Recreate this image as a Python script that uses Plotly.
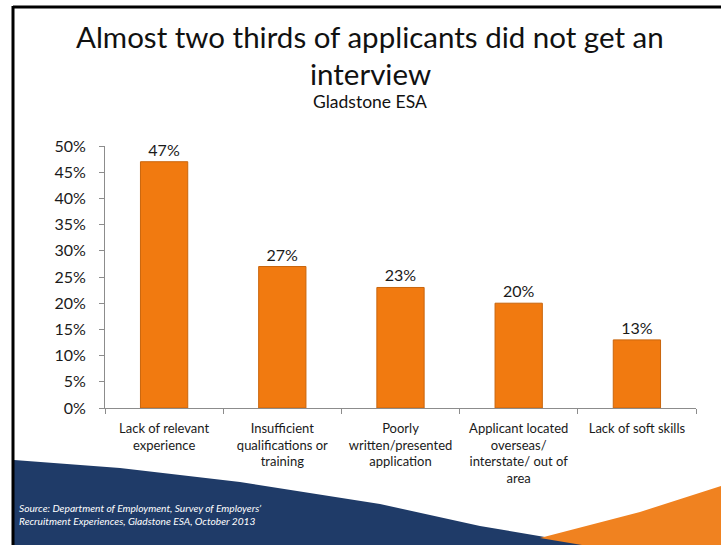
import plotly.graph_objects as go

# Reasons applicants were not offered an interview (share of applicants)
categories = [
    "Lack of relevant<br>experience",
    "Insufficient<br>qualifications or<br>training",
    "Poorly<br>written/presented<br>application",
    "Applicant located<br>overseas/<br>interstate/ out of<br>area",
    "Lack of soft skills",
]
shares = [0.47, 0.27, 0.23, 0.20, 0.13]

y_tick_values = [0, 0.05, 0.10, 0.15, 0.20, 0.25, 0.30, 0.35, 0.40, 0.45, 0.50]

W, H = 721, 545
L, R, T, B = 105, 25, 146, 137
FONT = "Lato, 'Open Sans', sans-serif"


def px(x):
    return (x - L) / (W - L - R)


def py(y):
    return (H - B - y) / (H - T - B)


def path(points):
    return "M " + " L ".join(f"{px(x):.4f},{py(y):.4f}" for x, y in points) + " Z"


fig = go.Figure(
    go.Bar(
        x=categories,
        y=shares,
        width=0.4,
        marker=dict(color="#F17A10", line=dict(color="#C9650C", width=1)),
        texttemplate="%{y:.0%}",
        textposition="outside",
        textfont=dict(size=16, color="#1a1a1a", family=FONT),
        cliponaxis=False,
    )
)

shapes = [
    # slide frame
    dict(type="line", xref="paper", yref="paper",
         x0=px(13), y0=py(7), x1=px(721), y1=py(7),
         line=dict(color="black", width=3), layer="above"),
    dict(type="line", xref="paper", yref="paper",
         x0=px(13), y0=py(6), x1=px(13), y1=py(545),
         line=dict(color="black", width=3), layer="above"),
    # dark blue footer band
    dict(type="path", xref="paper", yref="paper",
         path=path([(14, 460), (120, 468), (240, 482), (380, 504), (480, 526),
                    (610, 548), (14, 548)]),
         fillcolor="#1F3B68", line=dict(width=0), layer="below"),
    # orange corner wedge
    dict(type="path", xref="paper", yref="paper",
         path=path([(540, 538), (640, 512), (721, 486), (721, 548), (600, 548)]),
         fillcolor="#F08220", line=dict(width=0), layer="below"),
]

annotations = [
    dict(text="Almost two thirds of applicants did not get an", x=px(370), y=py(36),
         xref="paper", yref="paper", showarrow=False, xanchor="center", yanchor="middle",
         font=dict(size=29.5, color="#111111", family=FONT)),
    dict(text="interview", x=px(370), y=py(73),
         xref="paper", yref="paper", showarrow=False, xanchor="center", yanchor="middle",
         font=dict(size=29.5, color="#111111", family=FONT)),
    dict(text="Gladstone ESA", x=px(370), y=py(102),
         xref="paper", yref="paper", showarrow=False, xanchor="center", yanchor="middle",
         font=dict(size=17.5, color="#111111", family=FONT)),
    dict(text="<i>Source: Department of Employment, Survey of Employers’<br>"
              "Recruitment Experiences, Gladstone ESA, October 2013</i>",
         x=px(17), y=py(514), xref="paper", yref="paper", showarrow=False,
         xanchor="left", yanchor="middle", align="left",
         font=dict(size=10.2, color="white", family=FONT)),
]

fig.update_layout(
    width=W, height=H,
    margin=dict(l=L, r=R, t=T, b=B, autoexpand=False),
    paper_bgcolor="white", plot_bgcolor="white",
    showlegend=False,
    shapes=shapes,
    annotations=annotations,
    bargap=0.6,
    font=dict(family=FONT, color="#1a1a1a"),
)

fig.update_yaxes(
    range=[0, 0.5], tickvals=y_tick_values, tickformat=".0%",
    showgrid=False, zeroline=False,
    showline=True, linecolor="#8c8c8c", linewidth=1,
    ticks="outside", ticklen=5, tickcolor="#8c8c8c",
    ticklabelstandoff=10,
    tickfont=dict(size=16, color="#1a1a1a", family=FONT),
)

fig.update_xaxes(
    showgrid=False, showline=True, linecolor="#8c8c8c", linewidth=1,
    ticks="outside", ticklen=5, tickcolor="#8c8c8c", tickson="boundaries",
    ticklabelstandoff=8,
    tickfont=dict(size=13, color="#1a1a1a", family=FONT),
    tickangle=0,
)

fig.write_html("out.html")
